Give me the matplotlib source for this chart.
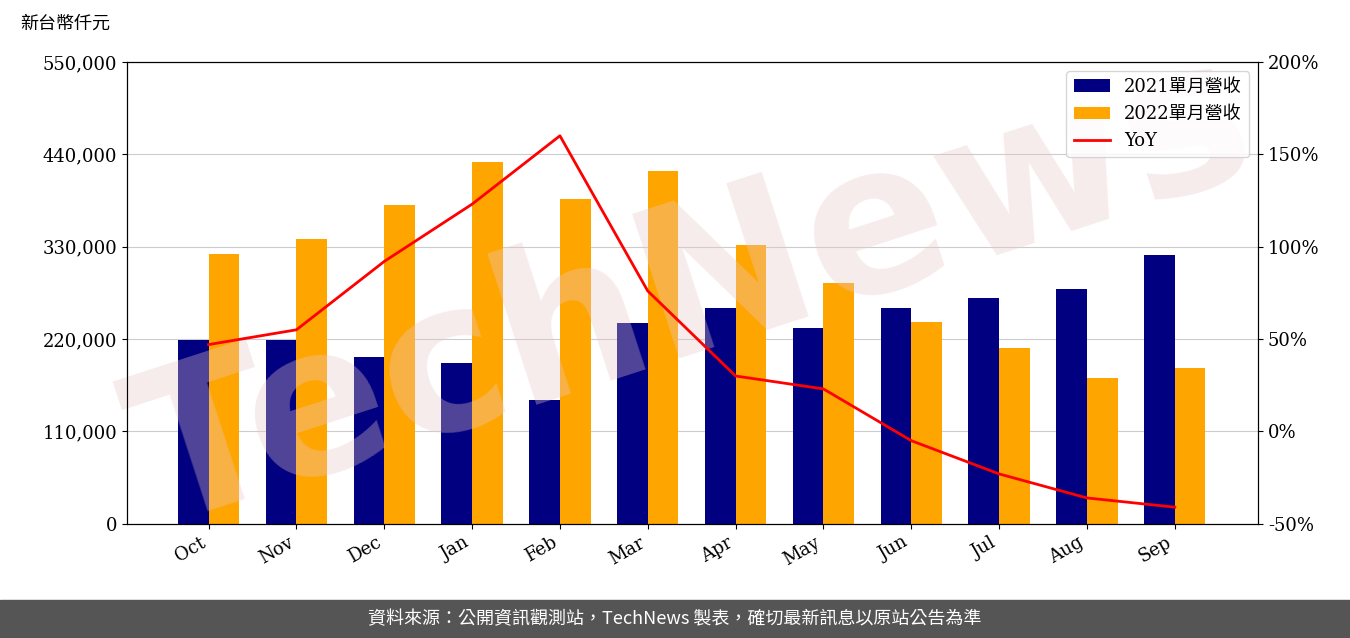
import matplotlib
matplotlib.use("Agg")
import matplotlib.pyplot as plt
import numpy as np
from matplotlib.ticker import FuncFormatter

months = ["Oct","Nov","Dec","Jan","Feb","Mar","Apr","May","Jun","Jul","Aug","Sep"]
rev2021 = [219000,219000,198700,191600,147600,239200,257000,233200,257000,269000,279700,320100]
rev2022 = [321300,339200,379600,430800,386700,420100,332000,286800,240400,209400,173700,185600]
yoy = [47,55,92,123,160,76,30,23,-5,-23,-36,-41]

fam = ['DejaVu Serif','Noto Sans CJK TC']
plt.rcParams['font.family'] = fam
fig = plt.figure(figsize=(13.5,6.38), dpi=100)
ax = fig.add_axes([0.094,0.179,0.838,0.724])
x = np.arange(len(months))
w = 0.35
ax.bar(x-w/2, rev2021, w, color='#000080', label='2021單月營收', zorder=2)
ax.bar(x+w/2, rev2022, w, color='#FFA500', label='2022單月營收', zorder=2)
ax.set_ylim(0,550000)
ax.set_yticks(np.arange(0,550001,110000))
ax.yaxis.set_major_formatter(FuncFormatter(lambda v,p: f"{int(v):,}"))
ax.grid(axis='y', color='#cccccc', zorder=0)
ax.set_xlim(-0.93, 11.95)
ax.set_xticks(x)
ax.set_xticklabels(months, rotation=30, ha='right')
ax.tick_params(labelsize=13)
ax.text(0.5,0.5,'TechNews', transform=ax.transAxes, fontsize=150, color='#e8c8c8', alpha=0.35, rotation=18, ha='center', va='center', family='DejaVu Sans', fontweight='bold', zorder=3)
ax2 = ax.twinx()
l, = ax2.plot(x, yoy, color='red', lw=2, label='YoY')
ax2.set_ylim(-50,200)
ax2.set_yticks(np.arange(-50,201,50))
ax2.yaxis.set_major_formatter(FuncFormatter(lambda v,p: f"{int(v)}%"))
ax2.tick_params(labelsize=13)
h1,l1 = ax.get_legend_handles_labels()
ax2.legend(h1+[l], l1+['YoY'], loc='upper right', prop={'family':fam,'size':13})
fig.text(0.015,0.955,'新台幣仟元', fontsize=13, family=['Noto Sans CJK TC'])
fig.patches.append(plt.Rectangle((0,0),1,0.06, transform=fig.transFigure, color='#555555'))
fig.text(0.5,0.03,'資料來源：公開資訊觀測站，TechNews 製表，確切最新訊息以原站公告為準', color='white', fontsize=13, ha='center', va='center', family=['Noto Sans CJK TC'])
fig.savefig('out.png')
